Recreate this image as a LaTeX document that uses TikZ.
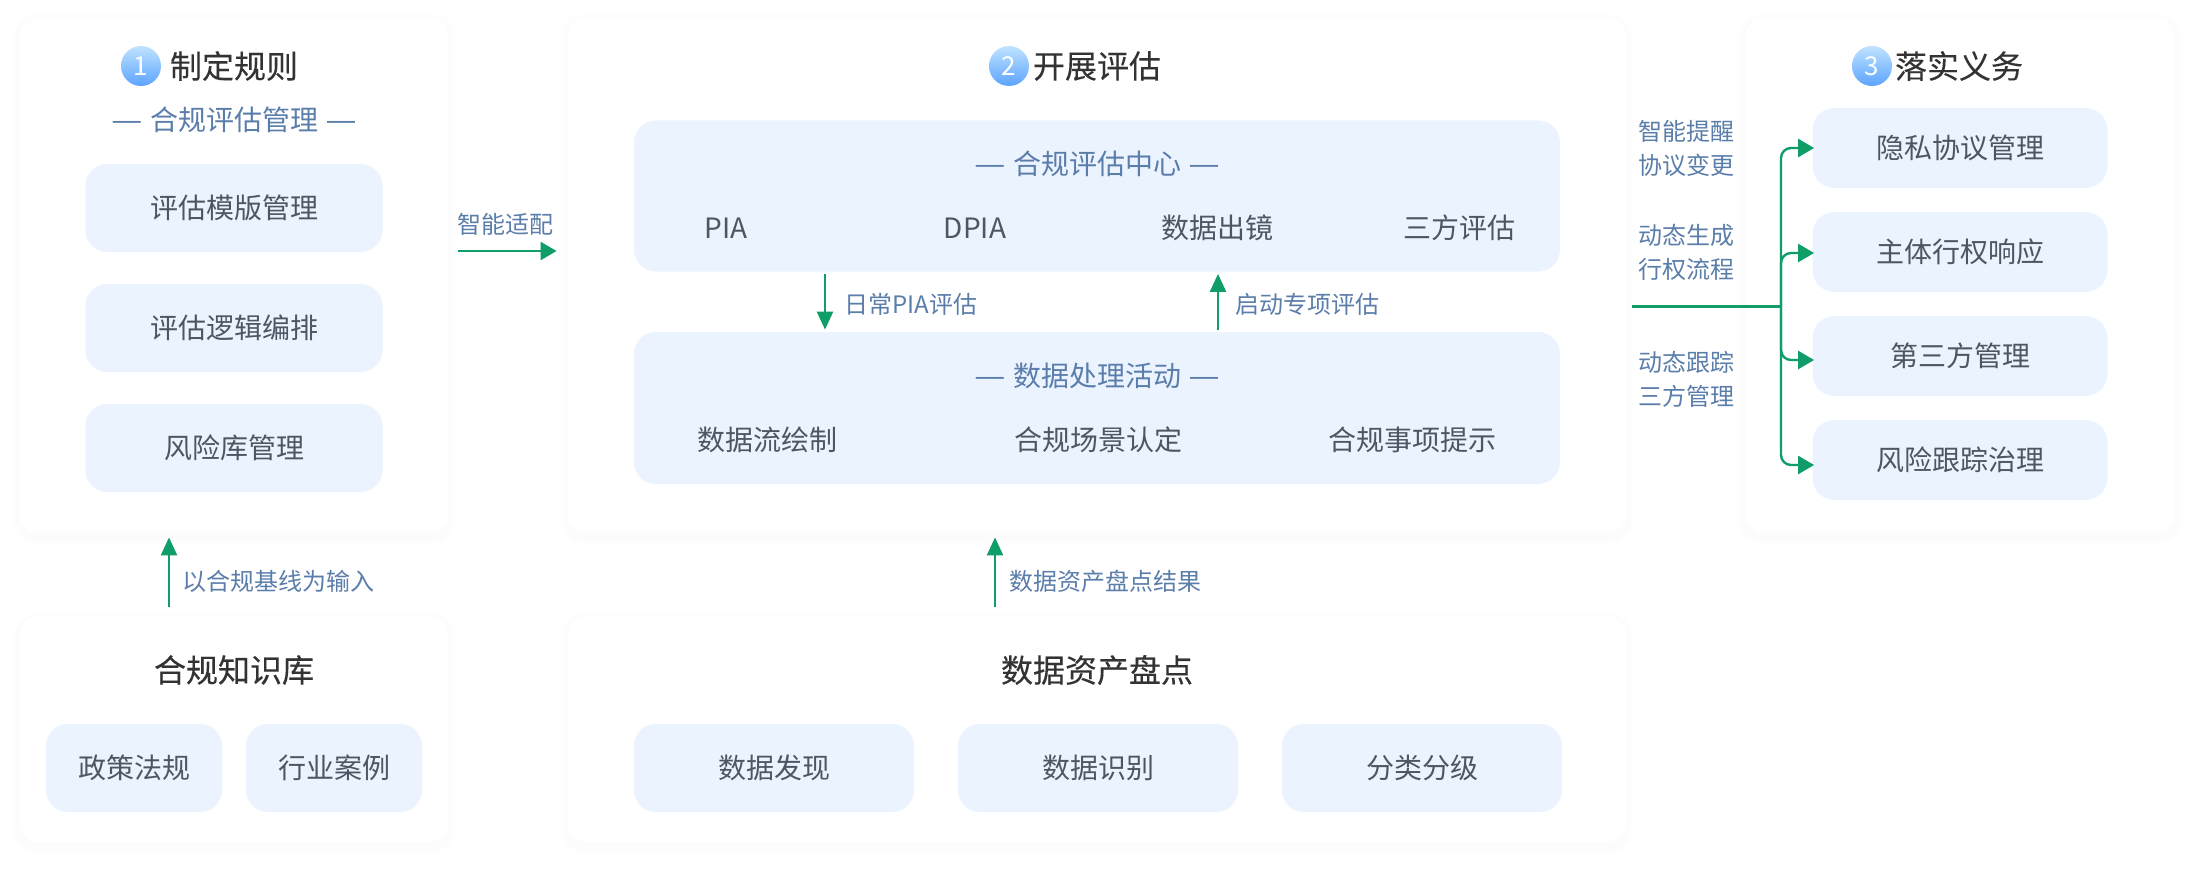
\documentclass[tikz,border=0pt]{standalone}
\usepackage{fontspec}
\setmainfont{Noto Sans CJK SC}
\newfontfamily\titlefont[FakeBold=0.1]{Noto Sans CJK SC}
\newfontfamily\headfont[FakeBold=0.3]{Noto Sans CJK SC}
\newfontfamily\dashfont{Liberation Sans}
\newcommand{\subdash}{{\dashfont\raisebox{0.6pt}{—}}}
\usetikzlibrary{positioning,arrows.meta,calc}
\definecolor{boxblue}{HTML}{EBF3FF}
\definecolor{linkgreen}{HTML}{0F9D68}
\definecolor{noteblue}{HTML}{5A7DAA}
\definecolor{itemgray}{HTML}{4E5663}
\definecolor{headgray}{HTML}{333333}
\definecolor{ballhi}{HTML}{BFE3FF}
\definecolor{balllo}{HTML}{5CA3FF}
\tikzset{
  flowarrow/.style={-{Triangle[length=9pt,width=8pt]}, line width=1.2pt, draw=linkgreen},
  sidearrow/.style={-{Triangle[length=8pt,width=9pt]}, line width=1.2pt, draw=linkgreen},
  cardnode/.style={fill=white, rounded corners=9pt, inner sep=0pt,
    preaction={draw=black!0.5, line width=9pt, transform canvas={yshift=-2pt}},
    preaction={draw=black!1, line width=5pt, transform canvas={yshift=-2pt}}},
  itemnode/.style={fill=boxblue, rounded corners=11pt, inner sep=0pt, text=itemgray, font=\fontsize{14}{16}\selectfont, align=center},
  groupnode/.style={fill=boxblue, rounded corners=11pt, inner sep=0pt},
  plainitem/.style={inner sep=0pt, text=itemgray, font=\fontsize{14}{16}\selectfont},
  titlenode/.style={inner sep=0pt, text=headgray, font=\titlefont\fontsize{16}{18}\selectfont},
  headnode/.style={inner sep=0pt, text=headgray, font=\headfont\fontsize{16}{18}\selectfont},
  subnode/.style={inner sep=0pt, text=noteblue, font=\fontsize{14}{16}\selectfont},
  linknote/.style={inner sep=0pt, text=noteblue, font=\fontsize{12}{17}\selectfont, align=center},
  ballnode/.style={circle, minimum size=20pt, inner sep=0pt, text=white, top color=ballhi, bottom color=balllo, font=\fontsize{13}{14}\selectfont}
}
\begin{document}
\begin{tikzpicture}[x=0.5pt, y=-0.5pt]
  \useasboundingbox (0,0) rectangle (2194,872);
  % cards
  \node[cardnode, minimum width=214pt, minimum height=258pt] (rulecard) at (234,275) {};
  \node[cardnode, minimum width=529pt, minimum height=258pt] (evalcard) at (1097,275) {};
  \node[cardnode, minimum width=214pt, minimum height=258pt] (dutycard) at (1960,275) {};
  \node[cardnode, minimum width=214pt, minimum height=113pt] (kbcard) at (234,729) {};
  \node[cardnode, minimum width=529pt, minimum height=113pt] (assetcard) at (1097,729) {};
  % rules
  \node[ballnode] (ruleball) at (141,66) {1};
  \node[titlenode] (ruletitle) at (234,66) {制定规则};
  \node[subnode] (rulesub) at (234,120) {\subdash\ \hspace{1.4pt}合规评估管理\hspace{1.4pt} \subdash};
  \node[itemnode, minimum width=148.5pt, minimum height=44pt] (ruleone) at (234,208) {评估模版管理};
  \node[itemnode, minimum width=148.5pt, minimum height=44pt] (ruletwo) at (234,328) {评估逻辑编排};
  \node[itemnode, minimum width=148.5pt, minimum height=44pt] (rulethree) at (234,448) {风险库管理};
  % evaluation
  \node[ballnode] (evalball) at (1009,66) {2};
  \node[titlenode] (evaltitle) at (1097,66) {开展评估};
  \node[groupnode, minimum width=463pt, minimum height=75.5pt] (centerbox) at (1097,196) {};
  \node[groupnode, minimum width=463pt, minimum height=76pt] (activitybox) at (1097,408) {};
  \node[subnode] (centersub) at (1097,164) {\subdash\ \hspace{1.4pt}合规评估中心\hspace{1.4pt} \subdash};
  \node[plainitem] (pia) at (726,228) {PIA};
  \node[plainitem] (dpia) at (975,228) {DPIA};
  \node[plainitem] (transfer) at (1217,228) {数据出镜};
  \node[plainitem] (vendor) at (1459,228) {三方评估};
  \node[subnode] (activitysub) at (1097,376) {\subdash\ \hspace{1.4pt}数据处理活动\hspace{1.4pt} \subdash};
  \node[plainitem] (flowdraw) at (767,440) {数据流绘制};
  \node[plainitem] (scene) at (1098,440) {合规场景认定};
  \node[plainitem] (hint) at (1412,440) {合规事项提示};
  % duties
  \node[ballnode] (dutyball) at (1872,66) {3};
  \node[titlenode] (dutytitle) at (1959,66) {落实义务};
  \node[itemnode, minimum width=147.5pt, minimum height=40pt] (dutyone) at (1960,148) {隐私协议管理};
  \node[itemnode, minimum width=147.5pt, minimum height=40pt] (dutytwo) at (1960,252) {主体行权响应};
  \node[itemnode, minimum width=147.5pt, minimum height=40pt] (dutythree) at (1960,356) {第三方管理};
  \node[itemnode, minimum width=147.5pt, minimum height=40pt] (dutyfour) at (1960,460) {风险跟踪治理};
  % knowledge base
  \node[headnode] (kbtitle) at (234,670) {合规知识库};
  \node[itemnode, minimum width=88pt, minimum height=44pt] (law) at (134,768) {政策法规};
  \node[itemnode, minimum width=88pt, minimum height=44pt] (case) at (334,768) {行业案例};
  % data assets
  \node[headnode] (assettitle) at (1097,670) {数据资产盘点};
  \node[itemnode, minimum width=140pt, minimum height=44pt] (discover) at (774,768) {数据发现};
  \node[itemnode, minimum width=140pt, minimum height=44pt] (identify) at (1098,768) {数据识别};
  \node[itemnode, minimum width=140pt, minimum height=44pt] (classify) at (1422,768) {分类分级};
  % connectors
  \coordinate (fitline) at (0,251);
  \coordinate (kbline) at (169,0);
  \coordinate (assetline) at (995,0);
  \coordinate (pialine) at (825,0);
  \coordinate (specialline) at (1218,0);
  \coordinate (hub) at (1781,306);
  \draw[sidearrow, shorten <=5pt, shorten >=5.5pt] (fitline -| rulecard.east) -- (fitline -| evalcard.west);
  \draw[flowarrow, shorten <=4.5pt, shorten >=2pt] (kbline |- kbcard.north) -- (kbline |- rulecard.south);
  \draw[flowarrow, shorten <=4.5pt, shorten >=2pt] (assetline |- assetcard.north) -- (assetline |- evalcard.south);
  \draw[flowarrow, shorten <=1pt, shorten >=1pt] (pialine |- centerbox.south) -- (pialine |- activitybox.north);
  \draw[flowarrow, shorten <=1pt, shorten >=1pt] (specialline |- activitybox.north) -- (specialline |- centerbox.south);
  \draw[line width=1.5pt, draw=linkgreen, shorten <=3pt] (hub -| evalcard.east) -- (hub);
  \draw[sidearrow, rounded corners=5pt] (hub) |- ([xshift=1pt]dutyone.west);
  \draw[sidearrow, rounded corners=5pt] (hub) |- ([xshift=1pt,yshift=-0.5pt]dutytwo.west);
  \draw[sidearrow, rounded corners=5pt] (hub) |- ([xshift=1pt,yshift=-2pt]dutythree.west);
  \draw[sidearrow, rounded corners=5pt] (hub) |- ([xshift=1pt,yshift=-2.5pt]dutyfour.west);
  % link labels
  \node[linknote] (fitnote) at (505,224) {智能适配};
  \node[linknote, anchor=west] (kbnote) at (182,581) {以合规基线为输入};
  \node[linknote, anchor=west] (assetnote) at (1009,581) {数据资产盘点结果};
  \node[linknote, anchor=west] (pianote) at (844,304) {日常PIA评估};
  \node[linknote, anchor=west] (specialnote) at (1235,304) {启动专项评估};
  \node[linknote] (remindnote) at (1686,148) {智能提醒\\协议变更};
  \node[linknote] (rightsnote) at (1686,252) {动态生成\\行权流程};
  \node[linknote] (tracknote) at (1686,379) {动态跟踪\\三方管理};
\end{tikzpicture}
\end{document}
